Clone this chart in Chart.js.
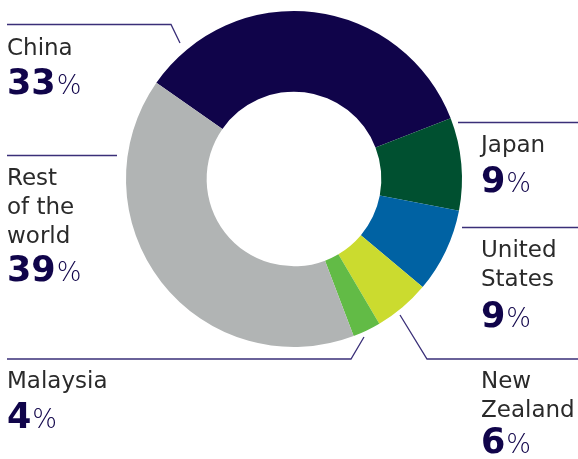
<!DOCTYPE html>
<html>
<head>
<meta charset="utf-8">
<script src="https://cdn.jsdelivr.net/npm/chart.js@4"></script>
<style>
  body { margin: 0; background: #fff; }
</style>
</head>
<body>
<canvas id="grafico" width="578" height="459"></canvas>
<script>
const paises = ["China", "Japan", "United States", "New Zealand", "Malaysia", "Rest of the world"];
// arc shares as measured on the picture, labels keep the printed rounded values
const fatias = [34.4, 8.9, 8.1, 5.4, 2.7, 40.5];
const percentuais = [33, 9, 9, 6, 4, 39];
const cores = ["#10044a", "#005030", "#0062a3", "#cbdb2f", "#62bb46", "#b1b4b4"];

const rotulos = [
  { linhas: ["China"], x: 7, y: 55, yNum: 94, guia: [[7, 24.5], [171, 24.5], [180, 43]] },
  { linhas: ["Japan"], x: 481, y: 152, yNum: 192, guia: [[458, 122.5], [578, 122.5]] },
  { linhas: ["United", "States"], x: 481, y: 257, yNum: 327, guia: [[462, 227.5], [578, 227.5]] },
  { linhas: ["New", "Zealand"], x: 481, y: 388, yNum: 453, guia: [[400, 315], [427, 359], [578, 359]] },
  { linhas: ["Malaysia"], x: 7, y: 388, yNum: 428, guia: [[364, 337], [351, 359], [7, 359]] },
  { linhas: ["Rest", "of the", "world"], x: 7, y: 185, yNum: 281, guia: [[7, 155.5], [117, 155.5]] }
];

const pluginRotulos = {
  id: "rotulos",
  afterDraw(chart) {
    const ctx = chart.ctx;
    ctx.save();
    rotulos.forEach((r, i) => {
      ctx.strokeStyle = "#3a2f78";
      ctx.lineWidth = 1.3;
      ctx.beginPath();
      r.guia.forEach((p, j) => j ? ctx.lineTo(p[0], p[1]) : ctx.moveTo(p[0], p[1]));
      ctx.stroke();

      ctx.fillStyle = "#2a2a2a";
      ctx.font = "23px 'DejaVu Sans'";
      ctx.textBaseline = "alphabetic";
      ctx.textAlign = "left";
      r.linhas.forEach((t, k) => ctx.fillText(t, r.x, r.y + k * 29));

      ctx.fillStyle = "#10044a";
      ctx.font = "bold 35px 'DejaVu Sans'";
      const num = String(percentuais[i]);
      ctx.fillText(num, r.x, r.yNum);
      const w = ctx.measureText(num).width;
      ctx.font = "200 26px 'DejaVu Sans'";
      ctx.fillText("%", r.x + w + 1, r.yNum);
    });
    ctx.restore();
  }
};

new Chart(document.getElementById("grafico"), {
  type: "doughnut",
  data: {
    labels: paises,
    datasets: [{ data: fatias, backgroundColor: cores, borderWidth: 0 }]
  },
  options: {
    responsive: false,
    animation: false,
    cutout: "52%",
    rotation: -55,
    layout: { padding: { left: 126, right: 116, top: 11, bottom: 112 } },
    plugins: { legend: { display: false }, tooltip: { enabled: false } }
  },
  plugins: [pluginRotulos]
});
</script>
</body>
</html>
